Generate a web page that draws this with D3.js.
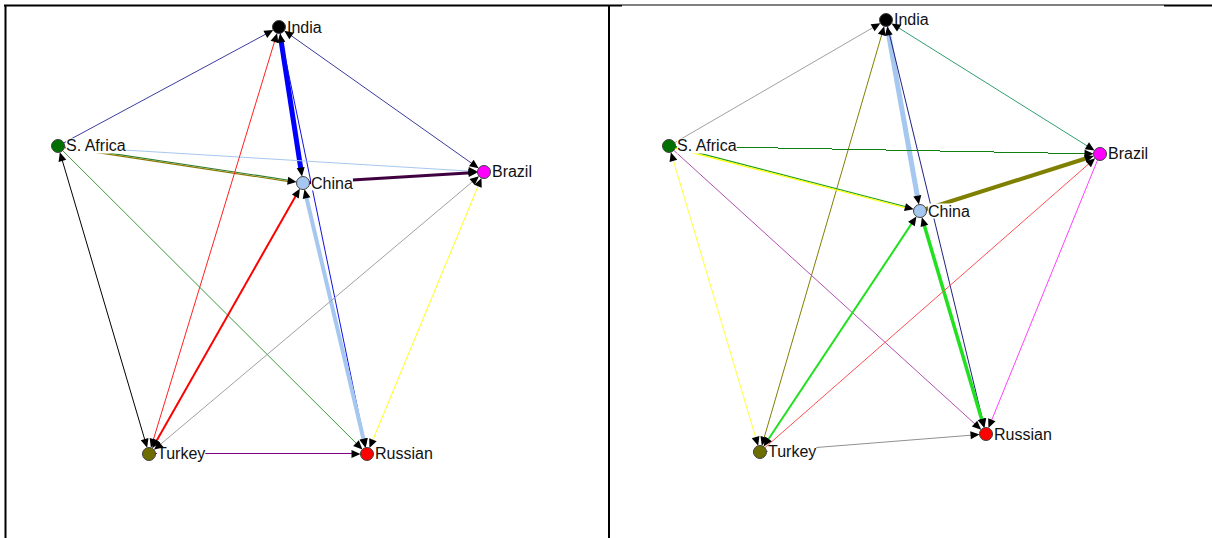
<!DOCTYPE html>
<html>
<head>
<meta charset="utf-8">
<script src="https://cdn.jsdelivr.net/npm/d3@7"></script>
<style>
  html, body { margin: 0; padding: 0; background: #fff; }
  svg { display: block; }
</style>
</head>
<body>
<svg id="chart" width="1212" height="538"></svg>
<script>
// ---- data ----
const nodes = ["India", "S. Africa", "China", "Brazil", "Turkey", "Russian"];
const nodeColors = ["#000000", "#007000", "#a6c8f0", "#ff00ff", "#6e6e00", "#ff0000"];

// normalized layout coordinates (0..1 inside each panel)
const leftX  = [0.4536, 0.0878, 0.4934, 0.7930, 0.2384, 0.5993];
const leftY  = [0.0413, 0.2645, 0.3340, 0.3133, 0.8424, 0.8424];
const rightX = [0.4594, 0.0995, 0.5158, 0.8143, 0.2504, 0.6252];
const rightY = [0.0281, 0.2645, 0.3865, 0.2795, 0.8386, 0.8049];

// edges: [source, target, tie strength, bidirectional(1) or not(0)]
const leftEdges = [
  ["S. Africa", "India", 1, 0],
  ["Brazil", "India", 1, 1],
  ["India", "China", 5, 1],
  ["India", "Russian", 1, 0],
  ["China", "Russian", 4, 1],
  ["S. Africa", "China", 2, 0],
  ["S. Africa", "Brazil", 1, 0],
  ["China", "Brazil", 3, 0],
  ["S. Africa", "Turkey", 1, 1],
  ["S. Africa", "Russian", 1, 0],
  ["Turkey", "India", 1, 1],
  ["Turkey", "China", 2, 1],
  ["Turkey", "Brazil", 1, 1],
  ["Brazil", "Russian", 1, 1],
  ["Turkey", "Russian", 1, 0]
];
const leftEdgeColors = [
  ["#3c3ca0"], ["#3c3ca0"], ["#0000ff"], ["#1010e0"], ["#a6c8f0"],
  ["#2e7d2e", "#8a7a00"], ["#a6c8f0"], ["#400040"], ["#000000"], ["#3a9a3a"],
  ["#ff2020"], ["#ff0000"], ["#a0a0a0"], ["#ffff20"], ["#800080"]
];

const rightEdges = [
  ["S. Africa", "India", 1, 0],
  ["Turkey", "India", 1, 1],
  ["India", "China", 5, 1],
  ["India", "Russian", 1, 0],
  ["Brazil", "India", 1, 1],
  ["S. Africa", "Brazil", 1, 0],
  ["S. Africa", "China", 2, 0],
  ["China", "Brazil", 4, 0],
  ["S. Africa", "Turkey", 1, 1],
  ["S. Africa", "Russian", 1, 0],
  ["Turkey", "China", 2, 1],
  ["China", "Russian", 3.5, 1],
  ["Turkey", "Brazil", 1, 0],
  ["Brazil", "Russian", 1, 0],
  ["Turkey", "Russian", 1, 0]
];
const rightEdgeColors = [
  ["#a0a0a0"], ["#808000"], ["#a6c8f0"], ["#202080"], ["#30a070"],
  ["#108010"], ["#20a020", "#ffff00"], ["#808000"], ["#ffff40"], ["#b050b0"],
  ["#20e020"], ["#20e020"], ["#ff5050"], ["#ff40ff"], ["#909090"]
];

// ---- drawing ----
const svg = d3.select("#chart");
const width = 1212, height = 538;
const divider = 609, topY = 5;

const widthScale = d3.scaleLinear().domain([1, 5]).range([1, 5]);
const yScale = d3.scaleLinear().domain([0, 1]).range([topY, height]);

function drawPanel(g, xScale, lx, ly, edges, colors) {
  const pos = {};
  nodes.forEach((n, i) => { pos[n] = [xScale(lx[i]), yScale(ly[i])]; });
  const r = 6.5;
  const edgeG = g.append("g");
  const arrowG = g.append("g");

  function arrow(tip, ang) {
    const L = 9, W = 4;
    const bx = tip[0] - L * Math.cos(ang), by = tip[1] - L * Math.sin(ang);
    const px = -Math.sin(ang) * W, py = Math.cos(ang) * W;
    arrowG.append("path")
      .attr("d", `M${tip[0]},${tip[1]}L${bx + px},${by + py}L${bx - px},${by - py}Z`)
      .attr("fill", "#000");
  }

  edges.forEach((e, i) => {
    const s = pos[e[0]], t = pos[e[1]];
    const ang = Math.atan2(t[1] - s[1], t[0] - s[0]);
    const dx = Math.cos(ang), dy = Math.sin(ang);
    const sw = widthScale(e[2]);
    const cs = colors[i];
    const endT = [t[0] - dx * r, t[1] - dy * r];
    const endS = [s[0] + dx * r, s[1] + dy * r];
    const lineEnd = [t[0] - dx * (r + 6), t[1] - dy * (r + 6)];
    const lineStart = e[3] ? [s[0] + dx * (r + 6), s[1] + dy * (r + 6)] : s;
    const n = cs.length;
    const axisAligned = Math.abs(dy) < 0.02 || Math.abs(dx) < 0.02;
    cs.forEach((c, k) => {
      const off = (k - (n - 1) / 2) * (sw / n + 0.3);
      const ox = -dy * off, oy = dx * off;
      edgeG.append("line")
        .attr("x1", lineStart[0] + ox).attr("y1", lineStart[1] + oy)
        .attr("x2", lineEnd[0] + ox).attr("y2", lineEnd[1] + oy)
        .attr("stroke", c)
        .attr("stroke-width", n > 1 ? Math.max(1, sw / n + 0.2) : sw)
        .attr("shape-rendering", (n === 1 && sw <= 1 && axisAligned) ? "crispEdges" : "auto");
    });
    arrow(endT, ang);
    if (e[3]) arrow(endS, ang + Math.PI);
  });

  // labels with white background
  const labG = g.append("g");
  nodes.forEach((n, i) => {
    const p = pos[n];
    const t = labG.append("text")
      .attr("x", p[0] + 8).attr("y", p[1] + 5.5)
      .attr("font-family", "Liberation Sans, Arial, sans-serif")
      .attr("font-size", 16)
      .attr("fill", "#111")
      .text(n);
    const bb = t.node().getBBox();
    labG.insert("rect", "text")
      .attr("x", bb.x).attr("y", bb.y + 1)
      .attr("width", bb.width).attr("height", bb.height - 2)
      .attr("fill", "#fff");
  });
  g.node().insertBefore(labG.node(), arrowG.node());

  const nodeG = g.append("g");
  nodes.forEach((n, i) => {
    const p = pos[n];
    nodeG.append("circle")
      .attr("cx", p[0]).attr("cy", p[1]).attr("r", r)
      .attr("fill", nodeColors[i])
      .attr("stroke", "#404040").attr("stroke-width", 1);
  });
}

const xLeft = d3.scaleLinear().domain([0, 1]).range([5, divider]);
const xRight = d3.scaleLinear().domain([0, 1]).range([divider, width]);

drawPanel(svg.append("g"), xLeft, leftX, leftY, leftEdges, leftEdgeColors);
drawPanel(svg.append("g"), xRight, rightX, rightY, rightEdges, rightEdgeColors);

// frame lines
const frame = svg.append("g").attr("stroke", "#000");
frame.append("line").attr("x1", 4).attr("x2", 622).attr("y1", 5.5).attr("y2", 5.5).attr("stroke-width", 2);
frame.append("line").attr("x1", 622).attr("x2", 1164).attr("y1", 5).attr("y2", 5).attr("stroke-width", 1);
frame.append("line").attr("x1", 1164).attr("x2", 1212).attr("y1", 5.5).attr("y2", 5.5).attr("stroke-width", 2);
frame.append("line").attr("x1", 5.5).attr("x2", 5.5).attr("y1", 5).attr("y2", 538).attr("stroke-width", 2);
frame.append("line").attr("x1", divider).attr("x2", divider).attr("y1", 5).attr("y2", 538).attr("stroke-width", 2);
</script>
</body>
</html>
